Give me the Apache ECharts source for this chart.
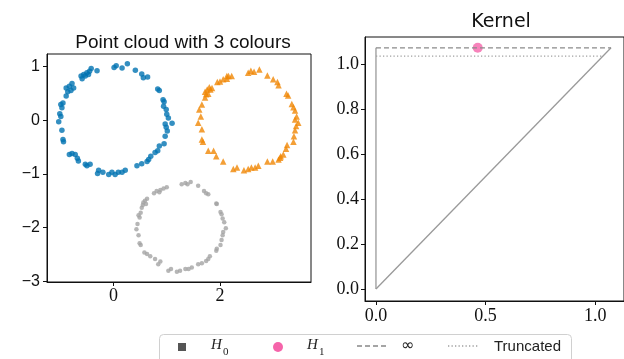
<!DOCTYPE html>
<html><head><meta charset="utf-8">
<script src="https://cdn.jsdelivr.net/npm/echarts@6/dist/echarts.min.js"></script>
<style>html,body{margin:0;padding:0;background:#fff}#c{width:624px;height:359px}</style>
</head><body><div id="c"></div>
<script>
// ---- data ----
const blueCloud = [
 [-0.42,0.96],[-0.45,0.91],[-0.50,0.88],[-0.56,0.85],[-0.61,0.82],[-0.59,0.77],[-0.53,0.82],[-0.47,0.85],
 [-0.31,0.92],[0.01,0.98],[0.05,1.01],[0.16,0.97],[0.26,1.05],[0.41,0.93],[0.53,0.86],[0.56,0.79],[0.64,0.80],
 [0.83,0.58],[0.86,0.55],[0.93,0.38],[0.95,0.34],[0.94,0.26],[0.99,0.20],[1.00,0.11],[1.03,0.04],[0.97,-0.07],
 [1.10,-0.06],[0.99,-0.13],[1.01,-0.20],[0.97,-0.30],[0.95,-0.44],[0.86,-0.48],[0.83,-0.57],[0.78,-0.60],
 [0.70,-0.67],[0.66,-0.73],[0.63,-0.77],[0.53,-0.81],[0.44,-0.85],[0.22,-0.93],[0.16,-0.97],[0.09,-0.97],
 [0.03,-1.01],[-0.03,-0.97],[-0.09,-1.01],[-0.20,-0.97],[-0.28,-0.93],[-0.30,-0.99],[-0.44,-0.82],[-0.50,-0.85],
 [-0.53,-0.82],[-0.66,-0.76],[-0.68,-0.71],[-0.72,-0.64],[-0.78,-0.62],[-0.83,-0.64],[-0.94,-0.40],[-0.95,-0.36],
 [-0.97,-0.19],[-1.03,-0.03],[-0.99,0.07],[-1.01,0.12],[-0.97,0.23],[-0.99,0.29],[-0.95,0.32],[-0.89,0.45],
 [-0.86,0.53],[-0.89,0.60],[-0.83,0.63],[-0.78,0.68],[-0.75,0.60],[-0.80,0.55]
];
const orangeCloud = [
 [2.53,0.88],[2.58,0.92],[2.64,0.90],[2.74,0.94],[2.89,0.83],[3.00,0.76],[3.08,0.71],[3.10,0.65],[3.25,0.49],
 [3.28,0.46],[2.22,0.82],[2.16,0.82],[2.13,0.77],[2.06,0.76],[2.00,0.72],[1.95,0.71],[1.85,0.60],[1.80,0.61],
 [1.76,0.57],[1.72,0.53],[1.74,0.48],[1.78,0.49],[1.72,0.42],[3.35,0.30],[3.38,0.24],[3.41,0.18],[3.44,0.07],
 [3.41,0.01],[3.47,-0.05],[3.43,-0.11],[3.41,-0.19],[3.39,-0.30],[3.38,-0.40],[3.26,-0.46],[3.24,-0.53],
 [3.19,-0.64],[3.14,-0.67],[3.10,-0.73],[2.99,-0.77],[2.89,-0.77],[2.72,-0.85],[2.66,-0.88],[2.53,-0.91],
 [2.45,-0.93],[2.32,-0.88],[2.25,-0.91],[2.06,-0.77],[1.93,-0.67],[1.88,-0.57],[1.78,-0.57],[1.68,-0.40],
 [1.66,-0.36],[1.66,-0.17],[1.59,-0.05],[1.64,0.07],[1.61,0.20],[1.66,0.29],[1.82,0.57],[2.13,0.82],
 [3.13,-0.70],[2.59,-0.88]
];
const grayCloud = [
 [1.28,-1.19],[1.35,-1.17],[1.39,-1.19],[1.45,-1.15],[1.59,-1.22],[1.70,-1.32],[1.74,-1.36],[1.78,-1.38],
 [1.93,-1.55],[1.94,-1.56],[1.00,-1.25],[0.94,-1.27],[0.88,-1.30],[0.86,-1.34],[0.81,-1.32],[0.76,-1.36],
 [0.63,-1.46],[0.59,-1.50],[0.56,-1.53],[0.55,-1.58],[0.53,-1.63],[0.61,-1.56],[2.01,-1.71],[2.03,-1.75],
 [2.05,-1.83],[2.08,-1.90],[2.11,-2.01],[2.06,-2.08],[2.05,-2.14],[2.03,-2.23],[2.01,-2.32],[1.94,-2.39],
 [1.93,-2.43],[1.81,-2.53],[1.78,-2.58],[1.74,-2.62],[1.66,-2.66],[1.59,-2.68],[1.47,-2.74],[1.41,-2.77],
 [1.35,-2.77],[1.25,-2.80],[1.19,-2.82],[1.08,-2.77],[1.03,-2.80],[0.88,-2.63],[0.84,-2.68],[0.78,-2.58],
 [0.69,-2.53],[0.63,-2.49],[0.58,-2.46],[0.51,-2.32],[0.49,-2.29],[0.47,-2.14],[0.43,-2.03],[0.45,-1.93],
 [0.49,-1.81],[0.47,-1.77],[0.51,-1.72]
];
const leftXTicks = [0, 2];
const leftYTicks = [-3, -2, -1, 0, 1];
const rightXTicks = [0, 0.5, 1.0];
const rightYTicks = [0, 0.2, 0.4, 0.6, 0.8, 1.0];
const h0Points = [];
const h1Points = [[0.464, 1.072]];
const infinityLevel = 1.072;
const truncatedLevel = 1.035;
const titles = ['Point cloud with 3 colours', 'Kernel'];
const legendNames = ['H', '0', 'H', '1', '\u221e', 'Truncated'];

// ---- chart ----
const chart = echarts.init(document.getElementById('c'), null, {renderer: 'canvas'});
const minus = v => String(v).replace('-', '\u2212');
const serif = 'Liberation Serif';
const sans = 'Liberation Sans';

function axisCommon(ticks, fmt, font, size, margin) {
  return {
    type: 'value',
    splitLine: {show: false},
    axisLine: {show: true, onZero: false, lineStyle: {color: '#111', width: 1}},
    axisTick: {show: true, inside: false, length: 4, customValues: ticks, lineStyle: {color: '#111', width: 1}},
    axisLabel: {show: true, customValues: ticks, formatter: fmt, fontFamily: font, fontSize: size, color: '#111', margin: margin},
  };
}

const option = {
  animation: false,
  backgroundColor: '#fff',
  title: [
    {text: titles[0], left: 178, top: 28, textAlign: 'center',
     textStyle: {fontFamily: sans, fontSize: 19, fontWeight: 'normal', color: '#111'}},
    {text: titles[1], left: 496, top: 8, textAlign: 'center',
     textStyle: {fontFamily: 'DejaVu Sans', fontSize: 19, fontWeight: 'normal', color: '#111'}}
  ],
  grid: [
    {left: 47, top: 54, width: 264, height: 228, show: true, borderColor: '#111', borderWidth: 1, backgroundColor: 'transparent'},
    {left: 365, top: 37, width: 263, height: 264, show: true, borderColor: '#111', borderWidth: 1, backgroundColor: 'transparent'}
  ],
  xAxis: [
    Object.assign(axisCommon(leftXTicks, v => minus(v), serif, 18, 5), {gridIndex: 0, min: -1.25, max: 3.71}),
    Object.assign(axisCommon(rightXTicks, v => v.toFixed(1), serif, 18, 6), {gridIndex: 1, min: -0.05, max: 1.131})
  ],
  yAxis: [
    Object.assign(axisCommon(leftYTicks, v => minus(v), sans, 16, 7), {gridIndex: 0, min: -3.01, max: 1.23}),
    Object.assign(axisCommon(rightYTicks, v => v.toFixed(1), serif, 18, 6), {gridIndex: 1, min: -0.053, max: 1.12})
  ],
  series: [
    {type: 'scatter', xAxisIndex: 0, yAxisIndex: 0, data: blueCloud, symbol: 'circle', symbolSize: 5.5,
     itemStyle: {color: '#0173b2'}},
    {type: 'scatter', xAxisIndex: 0, yAxisIndex: 0, data: orangeCloud, symbol: 'triangle', symbolSize: 6.5,
     itemStyle: {color: '#f08705'}},
    {type: 'scatter', xAxisIndex: 0, yAxisIndex: 0, data: grayCloud, symbol: 'circle', symbolSize: 4.5,
     itemStyle: {color: '#a4a4a4'}},
    {type: 'line', xAxisIndex: 1, yAxisIndex: 1, data: [[0, 0], [0, infinityLevel]], symbol: 'none',
     lineStyle: {color: '#9a9a9a', width: 1.3}},
    {type: 'line', xAxisIndex: 1, yAxisIndex: 1, data: [[0, 0], [infinityLevel, infinityLevel]], symbol: 'none',
     lineStyle: {color: '#9a9a9a', width: 1.3}},
    {type: 'line', name: '\u221e', xAxisIndex: 1, yAxisIndex: 1, data: [[0, infinityLevel], [infinityLevel, infinityLevel]], symbol: 'none',
     lineStyle: {color: '#8a8a8a', width: 1.3, type: [5, 3]}},
    {type: 'line', name: 'Truncated', xAxisIndex: 1, yAxisIndex: 1, data: [[0, truncatedLevel], [truncatedLevel, truncatedLevel]], symbol: 'none',
     lineStyle: {color: '#a0a0a0', width: 1.3, type: [1.3, 2.2]}},
    {type: 'scatter', name: 'H0', xAxisIndex: 1, yAxisIndex: 1, data: h0Points, symbol: 'rect', symbolSize: 8,
     itemStyle: {color: '#555'}},
    {type: 'scatter', name: 'H1', xAxisIndex: 1, yAxisIndex: 1, data: h1Points, symbol: 'circle', symbolSize: 10,
     itemStyle: {color: '#f564aa'}}
  ],
  graphic: [
    {type: 'rect', shape: {x: 159.5, y: 334.5, width: 412, height: 40, r: 4},
     style: {fill: '#fff', stroke: '#d0d0d0', lineWidth: 1}, z: 10},
    {type: 'rect', shape: {x: 178, y: 343, width: 8, height: 8}, style: {fill: '#555'}, z: 11},
    {type: 'text', x: 211, y: 338, style: {text: legendNames[0], fontFamily: serif, fontStyle: 'italic', fontSize: 15, fill: '#222'}, z: 11},
    {type: 'text', x: 223, y: 347, style: {text: legendNames[1], fontFamily: serif, fontSize: 11, fill: '#222'}, z: 11},
    {type: 'circle', shape: {cx: 278, cy: 347, r: 5}, style: {fill: '#f564aa'}, z: 11},
    {type: 'text', x: 307, y: 338, style: {text: legendNames[2], fontFamily: serif, fontStyle: 'italic', fontSize: 15, fill: '#222'}, z: 11},
    {type: 'text', x: 319, y: 347, style: {text: legendNames[3], fontFamily: serif, fontSize: 11, fill: '#222'}, z: 11},
    {type: 'line', shape: {x1: 357, y1: 346, x2: 388, y2: 346}, style: {stroke: '#888', lineWidth: 1.3, lineDash: [5, 3]}, z: 11},
    {type: 'text', x: 401, y: 338, style: {text: legendNames[4], fontFamily: 'DejaVu Sans', fontSize: 16, fill: '#222'}, z: 11},
    {type: 'line', shape: {x1: 448, y1: 346, x2: 478, y2: 346}, style: {stroke: '#a0a0a0', lineWidth: 1.3, lineDash: [1.3, 2.2]}, z: 11},
    {type: 'text', x: 494, y: 339, style: {text: legendNames[5], fontFamily: sans, fontSize: 15, fill: '#222'}, z: 11}
  ]
};
chart.setOption(option);
</script>
</body></html>
